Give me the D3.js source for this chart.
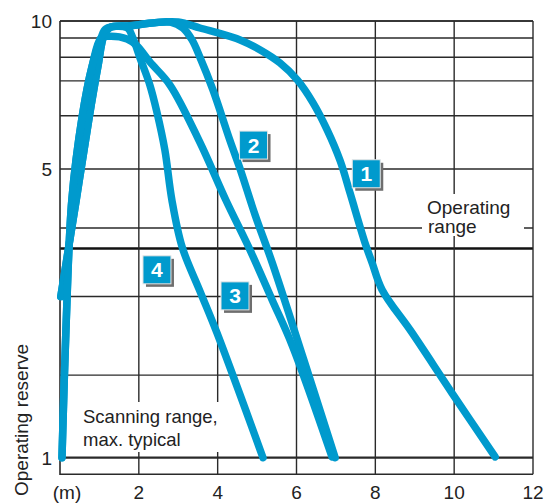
<!DOCTYPE html>
<html lang="en">
<meta charset="utf-8">
<head>
    <script src="https://d3js.org/d3.v7.min.js"></script>
    <style>
        body { margin: 0; background: #fff; }
        text { font-family: "Liberation Sans", Arial, sans-serif; fill: #222; }
    </style>
</head>
<body>
<script>

// axis values
var xTicks = [2, 4, 6, 8, 10, 12]
var yGrid = [1, 2, 3, 4, 5, 6, 7, 8, 9, 10]
var yGridPos = [0, .189, .369, .526, .661, .783, .863, .917, .961, 1]   // printed (non log) spacing
var yLabels = [1, 5, 10]
var rangeLimit = 3.7

// curves: scanning distance (m) -> operating reserve
var c1x = [0.02, 0.41, 0.74, 0.96, 1.12, 1.27, 1.78, 2.4, 3.0, 3.55, 4.57, 5.08, 5.58, 6.02, 6.42, 6.78, 7.11, 7.36, 7.74, 7.92, 8.17, 8.93, 9.95, 11.04]
var c1y = [3.0, 4.47, 5.97, 7.59, 9.18, 9.62, 9.72, 9.9, 9.94, 9.59, 8.9, 8.38, 7.76, 7.04, 6.37, 5.73, 5.15, 4.59, 3.78, 3.49, 3.1, 2.54, 1.78, 1.01]

var c2x = [0.02, 0.41, 0.74, 0.96, 1.12, 1.27, 1.78, 2.4, 2.8, 3.12, 3.35, 3.55, 3.88, 4.31, 4.57, 4.95, 5.38, 6.17, 6.98]
var c2y = [3.0, 4.47, 5.97, 7.59, 9.18, 9.62, 9.72, 9.9, 9.94, 9.59, 8.9, 8.0, 6.74, 5.54, 5.0, 4.22, 3.5, 2.22, 1.0]

var c3x = [0.05, 0.15, 0.30, 0.56, 0.81, 1.04, 1.22, 1.70, 1.95, 2.28, 2.79, 3.55, 4.21, 4.82, 5.38, 5.89, 6.9]
var c3y = [1.0, 2.57, 4.47, 5.97, 7.59, 9.0, 9.1, 8.95, 8.6, 7.8, 6.88, 5.5, 4.47, 3.68, 2.96, 2.38, 1.01]

var c4x = [0.05, 0.15, 0.30, 0.56, 0.81, 1.04, 1.17, 1.7, 1.85, 2.03, 2.28, 2.46, 2.66, 2.84, 3.1, 3.55, 3.98, 5.15]
var c4y = [1.0, 2.57, 4.47, 5.97, 7.59, 9.0, 9.55, 9.6, 9.0, 7.97, 6.88, 6.1, 5.36, 4.47, 3.72, 3.08, 2.54, 1.0]

var curveNames = ["1", "2", "3", "4"]
var labelX = [7.77, 4.91, 4.44, 2.46]
var labelY = [4.92, 5.45, 3.01, 3.39]

var blue = "#009acd"

var width = 544, height = 504
var svg = d3.select("body").append("svg")
    .attr("width", width)
    .attr("height", height)

var x = d3.scaleLinear().domain([0, 12]).range([60, 533])
var top_ = 21, bottom1 = 457.7
var y = d3.scaleLinear()
    .domain(yGrid)
    .range(yGridPos.map(function(f) { return bottom1 - f * (bottom1 - top_) }))
var frameBottom = y(0.8)

// grid
svg.selectAll(".hgrid")
    .data(yGrid)
    .enter().append("line")
    .attr("x1", x(0)).attr("x2", x(12))
    .attr("y1", function(d) { return y(d) })
    .attr("y2", function(d) { return y(d) })
    .attr("stroke", "#2a2a2a")
    .attr("stroke-width", function(d) { return d == 1 ? 2.2 : 1.4 })

svg.append("line")
    .attr("x1", x(0)).attr("x2", x(12))
    .attr("y1", y(rangeLimit)).attr("y2", y(rangeLimit))
    .attr("stroke", "#111")
    .attr("stroke-width", 2.4)

svg.selectAll(".vgrid")
    .data(xTicks)
    .enter().append("line")
    .attr("x1", function(d) { return x(d) })
    .attr("x2", function(d) { return x(d) })
    .attr("y1", top_).attr("y2", frameBottom)
    .attr("stroke", "#2a2a2a")
    .attr("stroke-width", 1.4)

// frame
svg.append("path")
    .attr("d", "M" + x(0) + "," + top_ + "V" + frameBottom + "H" + x(12))
    .attr("fill", "none")
    .attr("stroke", "#2a2a2a")
    .attr("stroke-width", 1.6)
svg.append("line")
    .attr("x1", x(0)).attr("x2", x(12))
    .attr("y1", top_).attr("y2", top_)
    .attr("stroke", "#2a2a2a").attr("stroke-width", 1.6)

// white patches behind annotations
svg.append("rect").attr("x", 422).attr("y", 194).attr("width", 102).attr("height", 42).attr("fill", "#fff")
svg.append("rect").attr("x", 78).attr("y", 402).attr("width", 152).attr("height", 50).attr("fill", "#fff")

// curves
var curves = [[c1x, c1y], [c2x, c2y], [c3x, c3y], [c4x, c4y]]
var line = d3.line()
    .x(function(d) { return x(d[0]) })
    .y(function(d) { return y(d[1]) })
    .curve(d3.curveCatmullRom.alpha(0.5))

svg.selectAll(".curve")
    .data(curves)
    .enter().append("path")
    .attr("class", "curve")
    .attr("d", function(c) { return line(c[0].map(function(v, i) { return [v, c[1][i]] })) })
    .attr("fill", "none")
    .attr("stroke", blue)
    .attr("stroke-width", 7.5)
    .attr("stroke-linecap", "round")
    .attr("stroke-linejoin", "round")

// number boxes
var box = 28
var boxes = svg.selectAll(".box")
    .data(curveNames)
    .enter().append("g")
    .attr("transform", function(d, i) {
        return "translate(" + (x(labelX[i]) - box / 2) + "," + (y(labelY[i]) - box / 2) + ")"
    })
boxes.append("rect")
    .attr("x", 3).attr("y", 3).attr("width", box).attr("height", box)
    .attr("fill", "#6e6e6e")
boxes.append("rect")
    .attr("width", box).attr("height", box)
    .attr("fill", blue)
    .attr("stroke", "#e4e4e4").attr("stroke-width", 1)
boxes.append("text")
    .attr("x", box / 2).attr("y", box / 2 + 7.5)
    .attr("text-anchor", "middle")
    .style("fill", "#fff")
    .style("font-size", "21px")
    .style("font-weight", "bold")
    .text(function(d) { return d })

// tick labels
svg.selectAll(".ylab")
    .data(yLabels)
    .enter().append("text")
    .attr("x", 52)
    .attr("y", function(d) { return y(d) + 7 })
    .attr("text-anchor", "end")
    .style("font-size", "19px")
    .text(function(d) { return d })

svg.selectAll(".xlab")
    .data(xTicks)
    .enter().append("text")
    .attr("x", function(d) { return x(d) })
    .attr("y", 499)
    .attr("text-anchor", "middle")
    .style("font-size", "19px")
    .text(function(d) { return d })

svg.append("text")
    .attr("x", 67).attr("y", 499)
    .attr("text-anchor", "middle")
    .style("font-size", "19px")
    .text("(m)")

svg.append("text")
    .attr("transform", "translate(28,420) rotate(-90)")
    .attr("text-anchor", "middle")
    .style("font-size", "19px")
    .text("Operating reserve")

// annotations
var op = svg.append("text").style("font-size", "19px")
op.append("tspan").attr("x", 427).attr("y", 214).text("Operating")
op.append("tspan").attr("x", 428).attr("y", 233).text("range")

var sc = svg.append("text").style("font-size", "18.5px")
sc.append("tspan").attr("x", 83).attr("y", 423).text("Scanning range,")
sc.append("tspan").attr("x", 83).attr("y", 446).text("max. typical")

</script>
</body>
</html>
